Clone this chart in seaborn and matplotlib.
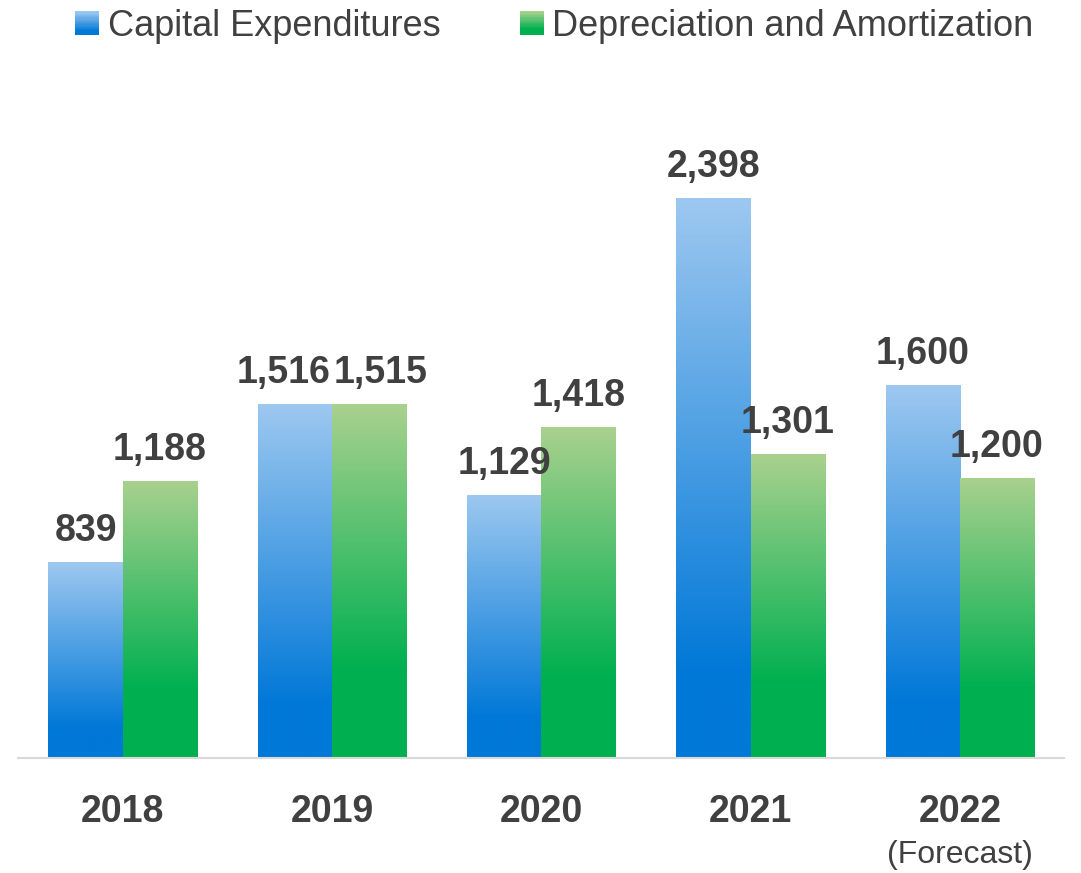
import numpy as np
import pandas as pd
import matplotlib
matplotlib.use("Agg")
import matplotlib.pyplot as plt
import seaborn as sns
from matplotlib.colors import LinearSegmentedColormap
from matplotlib.patches import Rectangle, Patch
from matplotlib.legend_handler import HandlerBase

years = ["2018", "2019", "2020", "2021", "2022"]
capex = [839, 1516, 1129, 2398, 1600]
dep_amort = [1188, 1515, 1418, 1301, 1200]
series_names = ["Capital Expenditures", "Depreciation and Amortization"]

df = pd.DataFrame({
    "Year": years * 2,
    "Value": capex + dep_amort,
    "Series": [series_names[0]] * 5 + [series_names[1]] * 5,
})

sns.set_theme(style="white")
plt.rcParams["font.family"] = ["Liberation Sans", "DejaVu Sans"]

txt = "#404040"
blue_top, blue_bot = "#9DC8F0", "#0078D7"
green_top, green_bot = "#A9D18E", "#00B050"
cmaps = {
    series_names[0]: LinearSegmentedColormap.from_list("b", [(0, blue_bot), (0.15, blue_bot), (1, blue_top)]),
    series_names[1]: LinearSegmentedColormap.from_list("g", [(0, green_bot), (0.25, green_bot), (1, green_top)]),
}

fig = plt.figure(figsize=(10.81, 8.73), dpi=100)
ax = fig.add_axes([0.0167, 0.1317, 0.968, 0.802])

sns.barplot(data=df, x="Year", y="Value", hue="Series", palette=[blue_bot, green_bot],
            width=0.71, ax=ax, legend=False, linewidth=0, saturation=1)

grad = np.linspace(0, 1, 256).reshape(-1, 1)
for k, (cont, name) in enumerate(zip(ax.containers, series_names)):
    for i, bar in enumerate(cont):
        x0, w, h = bar.get_x(), bar.get_width(), bar.get_height()
        im = ax.imshow(grad, cmap=cmaps[name], origin="lower", aspect="auto",
                       extent=[x0, x0 + w, 0, h], zorder=bar.get_zorder() + 0.1)
        im.set_clip_path(bar)
        # the two 2019 labels sit side by side, push them apart a little
        dx = (0.055 if k else -0.055) if i == 1 else 0
        ax.text(x0 + w / 2 + dx, h + 90, f"{int(h):,}", ha="center", va="baseline",
                fontsize=27, fontweight="bold", color=txt)

ax.set_xlim(-0.5, 4.5)
ax.set_ylim(0, 3000)

for s in ["top", "right", "left"]:
    ax.spines[s].set_visible(False)
ax.spines["bottom"].set_color("#D9D9D9")
ax.spines["bottom"].set_linewidth(1.5)
ax.set_yticks([])
ax.set_xlabel("")
ax.set_ylabel("")
ax.tick_params(axis="x", length=0, pad=26)
ax.set_xticks(range(len(years)))
ax.set_xticklabels(years, fontsize=27, fontweight="bold", color=txt)
ax.text(4, -0.138, "(Forecast)", transform=ax.get_xaxis_transform(), ha="center",
        va="center", fontsize=23, color=txt)


class GradientHandler(HandlerBase):
    def __init__(self, cmap):
        super().__init__()
        self.cmap = cmap

    def create_artists(self, legend, orig_handle, xdescent, ydescent, width, height, fontsize, trans):
        n = 20
        side = height * 1.0
        x0 = -xdescent + (width - side) / 2
        arts = []
        for i in range(n):
            r = Rectangle((x0, -ydescent + side * i / n), side, side / n + 0.3,
                          facecolor=self.cmap(i / (n - 1)), edgecolor="none", transform=trans)
            arts.append(r)
        return arts


h1 = Patch(label=series_names[0])
h2 = Patch(label=series_names[1])
fig.legend(handles=[h1, h2], labels=series_names, loc="upper center",
           bbox_to_anchor=(0.513, 1.027), ncol=2, frameon=False, fontsize=26,
           labelcolor=txt, handlelength=0.65, handleheight=0.65, handletextpad=0.25,
           columnspacing=2.2,
           handler_map={h1: GradientHandler(cmaps[series_names[0]]),
                        h2: GradientHandler(cmaps[series_names[1]])})

fig.savefig("out.png", dpi=100)
